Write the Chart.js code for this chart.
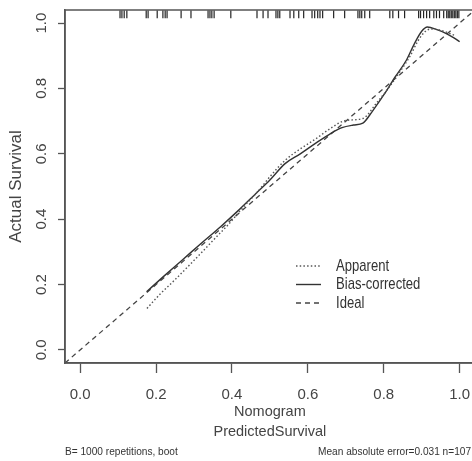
<!DOCTYPE html>
<html>
<head>
<meta charset="utf-8">
<script src="https://cdn.jsdelivr.net/npm/chart.js@4.4.1/dist/chart.umd.min.js"></script>
<style>
  html, body { margin: 0; padding: 0; background: #fff; overflow: hidden; }
  #wrap { width: 480px; height: 461px; }
</style>
</head>
<body>
<div id="wrap"><canvas id="myChart" width="480" height="461"></canvas></div>
<script>
const xTicks = [0, 0.2, 0.4, 0.6, 0.8, 1.0];
const yTicks = [0, 0.2, 0.4, 0.6, 0.8, 1.0];

const apparentX = [0.176, 0.21, 0.25, 0.29, 0.32, 0.36, 0.39, 0.43, 0.47, 0.50, 0.54, 0.58, 0.62, 0.66, 0.70, 0.745, 0.78, 0.815, 0.845, 0.87, 0.89, 0.91, 0.925, 0.95, 0.97, 0.99];
const apparentY = [0.127, 0.17, 0.215, 0.262, 0.298, 0.347, 0.383, 0.437, 0.487, 0.53, 0.58, 0.615, 0.645, 0.678, 0.702, 0.708, 0.754, 0.805, 0.855, 0.9, 0.945, 0.975, 0.982, 0.978, 0.97, 0.961];

const biasX = [0.175, 0.22, 0.27, 0.32, 0.37, 0.42, 0.46, 0.50, 0.54, 0.58, 0.62, 0.66, 0.69, 0.72, 0.745, 0.77, 0.80, 0.83, 0.86, 0.88, 0.90, 0.915, 0.94, 0.965, 0.985, 1.0];
const biasY = [0.178, 0.225, 0.276, 0.327, 0.377, 0.43, 0.475, 0.52, 0.57, 0.60, 0.632, 0.662, 0.68, 0.688, 0.694, 0.73, 0.78, 0.835, 0.887, 0.935, 0.975, 0.988, 0.98, 0.968, 0.955, 0.943];

const idealX = [-0.04, 1.04];
const idealY = [-0.04, 1.04];

const rugX = [0.105, 0.110, 0.116, 0.123, 0.174, 0.179, 0.203, 0.218, 0.224, 0.229, 0.266, 0.292, 0.337, 0.342, 0.347, 0.353, 0.397, 0.466, 0.482, 0.495, 0.516, 0.521, 0.526, 0.553, 0.563, 0.576, 0.589, 0.611, 0.618, 0.626, 0.632, 0.639, 0.668, 0.697, 0.732, 0.737, 0.742, 0.750, 0.763, 0.816, 0.824, 0.839, 0.855, 0.892, 0.897, 0.905, 0.913, 0.921, 0.932, 0.939, 0.947, 0.958, 0.966, 0.970, 0.974, 0.978, 0.982, 0.986, 0.990, 0.994, 0.998];
const rugLevel = 1.027;

const legendLabels = ['Apparent', 'Bias-corrected', 'Ideal'];
const xTitle = ['Nomogram', 'PredictedSurvival'];
const yTitle = 'Actual Survival';
const footLeft = 'B= 1000 repetitions, boot';
const footRight = 'Mean absolute error=0.031 n=107';

const FONT = "'Liberation Sans', Arial, sans-serif";
const INK = '#444';
const ctx = document.getElementById('myChart');

function puntos(xs, ys) {
  return xs.map((x, i) => ({ x, y: ys[i] }));
}

// texto algo estrecho, como en la figura original
function textoEstrecho(c, texto, x, y, escala) {
  c.save();
  c.translate(x, y);
  c.scale(escala, 1);
  c.fillText(texto, 0, 0);
  c.restore();
}

// caja completa alrededor del area del grafico, leyenda y notas al pie
const cajaYNotas = {
  id: 'cajaYNotas',
  afterDraw(chart) {
    const c = chart.ctx;
    const a = chart.chartArea;
    c.save();
    c.strokeStyle = '#555';
    c.lineWidth = 1.5;
    c.strokeRect(a.left, a.top, a.right - a.left, a.bottom - a.top);

    // leyenda dentro del grafico
    c.font = '17px ' + FONT;
    c.textBaseline = 'middle';
    c.textAlign = 'left';
    [0, 1, 2].forEach((i, k) => {
      const ds = chart.data.datasets[i];
      const y = 266 + k * 18.5;
      c.strokeStyle = ds.borderColor;
      c.lineWidth = ds.borderWidth;
      c.setLineDash(ds.borderDash || []);
      c.beginPath();
      c.moveTo(296, y);
      c.lineTo(321, y);
      c.stroke();
      c.setLineDash([]);
      c.fillStyle = '#333';
      textoEstrecho(c, ds.label, 336, y, 0.77);
    });

    c.font = '11.5px ' + FONT;
    c.fillStyle = '#333';
    textoEstrecho(c, footLeft, 65, 452, 0.88);
    textoEstrecho(c, footRight, 318, 452, 0.88);
    c.restore();
  }
};

new Chart(ctx, {
  type: 'scatter',
  data: {
    datasets: [
      {
        label: legendLabels[0],
        data: puntos(apparentX, apparentY),
        showLine: true,
        borderColor: '#555',
        borderWidth: 1.4,
        borderDash: [1.5, 2.2],
        pointRadius: 0,
        cubicInterpolationMode: 'monotone'
      },
      {
        label: legendLabels[1],
        data: puntos(biasX, biasY),
        showLine: true,
        borderColor: '#333',
        borderWidth: 1.4,
        pointRadius: 0,
        cubicInterpolationMode: 'monotone'
      },
      {
        label: legendLabels[2],
        data: puntos(idealX, idealY),
        showLine: true,
        borderColor: '#444',
        borderWidth: 1.3,
        borderDash: [5, 4],
        pointRadius: 0
      },
      {
        label: 'rug',
        data: rugX.map(x => ({ x, y: rugLevel })),
        pointStyle: 'line',
        rotation: 90,
        pointRadius: 4,
        borderColor: '#222',
        borderWidth: 1.2,
        clip: false
      }
    ]
  },
  options: {
    responsive: false,
    animation: false,
    events: [],
    layout: { padding: { left: 0, top: 10, right: 5, bottom: 0 } },
    plugins: {
      legend: { display: false },
      tooltip: { enabled: false }
    },
    scales: {
      x: {
        type: 'linear',
        min: -0.04,
        max: 1.04,
        afterBuildTicks: s => { s.ticks = xTicks.map(v => ({ value: v })); },
        afterFit: s => { s.height = 98; s.paddingLeft = 0; s.paddingRight = 0; },
        grid: { drawOnChartArea: false, drawTicks: true, tickLength: 10, tickColor: '#555', tickWidth: 1.3 },
        border: { display: true, color: '#555', width: 1.5 },
        ticks: {
          padding: 13,
          color: INK,
          font: { family: FONT, size: 15 },
          maxRotation: 0,
          callback: v => v.toFixed(1)
        },
        title: {
          display: true,
          text: xTitle,
          color: INK,
          font: { family: FONT, size: 14.5, lineHeight: 1.38 },
          padding: { top: 0, bottom: 19 }
        }
      },
      y: {
        type: 'linear',
        min: -0.04,
        max: 1.04,
        afterBuildTicks: s => { s.ticks = yTicks.map(v => ({ value: v })); },
        afterFit: s => { s.width = 65; s.paddingTop = 0; s.paddingBottom = 0; },
        grid: { drawOnChartArea: false, drawTicks: true, tickLength: 7, tickColor: '#555', tickWidth: 1.3 },
        border: { display: true, color: '#555', width: 1.5 },
        ticks: {
          padding: 6,
          color: INK,
          minRotation: 90,
          maxRotation: 90,
          crossAlign: 'center',
          font: { family: FONT, size: 15 },
          callback: v => v.toFixed(1)
        },
        title: {
          display: true,
          text: yTitle,
          color: INK,
          font: { family: FONT, size: 17 },
          padding: { top: 6, bottom: 0 }
        }
      }
    }
  },
  plugins: [cajaYNotas]
});
</script>
</body>
</html>
